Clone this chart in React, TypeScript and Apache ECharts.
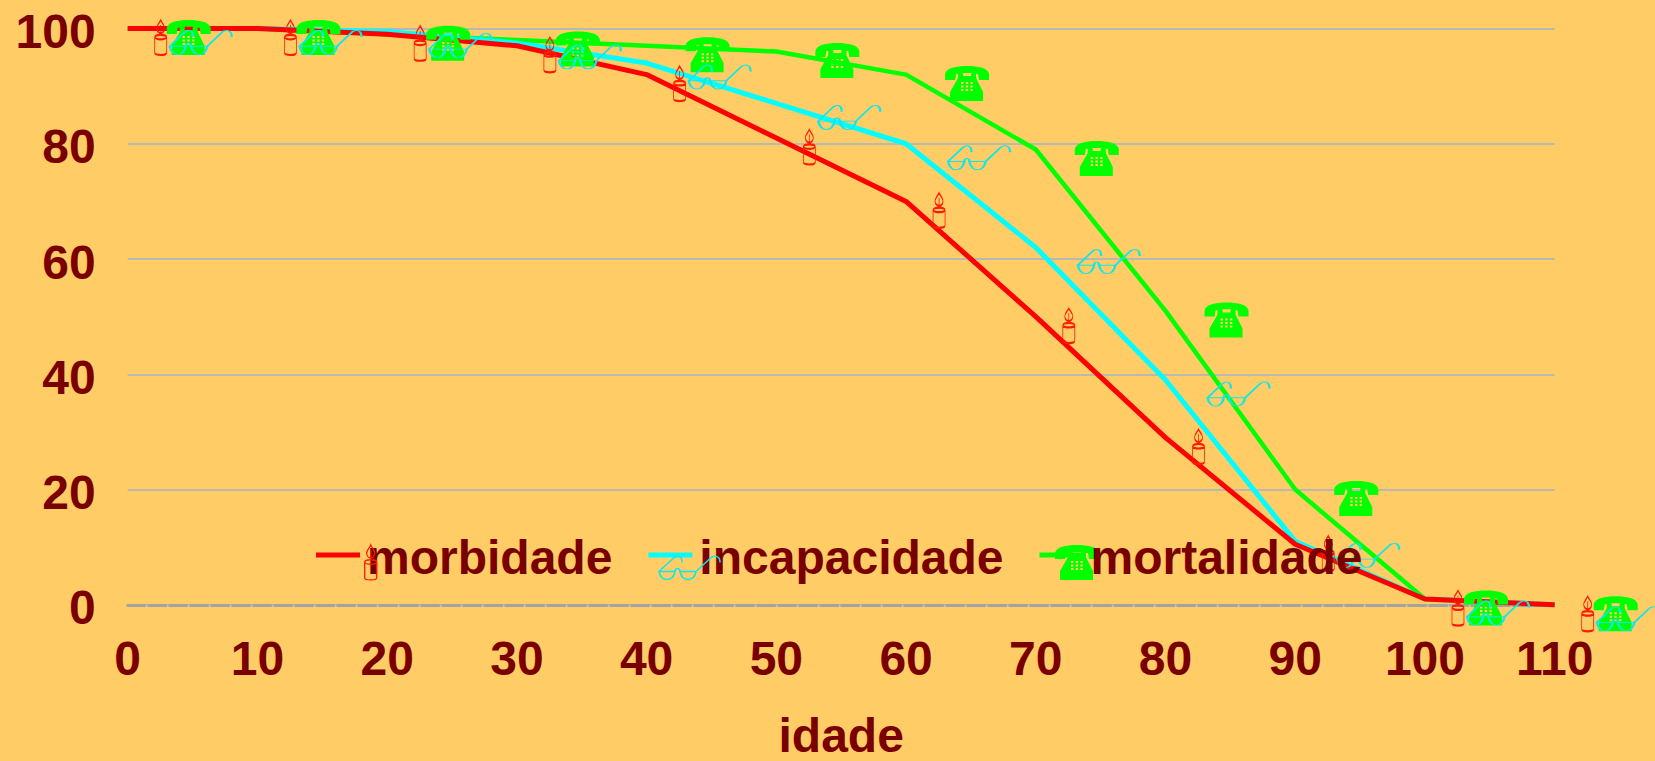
import React, { useEffect, useRef } from "react";
import * as echarts from "echarts";

const ages = [0, 10, 20, 30, 40, 50, 60, 70, 80, 90, 100, 110];
const morbidade = [100, 100, 99, 97, 92, 81, 70, 50, 29, 10.5, 1, 0];
const incapacidade = [100, 100, 99.5, 97.5, 94, 87, 80, 62, 39, 11, 1, 0];
const mortalidade = [100, 100, 99, 98, 97, 96, 92, 79, 51, 20, 1, 0];

const yTicks = { min: 0, max: 100, interval: 20 };
const xTicks = { min: 0, max: 110, interval: 10 };

const TEXT = "#7a0000";
const FONT = "'Liberation Sans', Arial, sans-serif";
const boldText = { color: TEXT, fontFamily: FONT, fontWeight: "bold", fontSize: 48 };

const candleD =
  "M6,0 C7,3 10,5 10,8 C10,11 8,13 6,13 C4,13 2,11 2,8 C2,5 5,3 6,0 Z M6,5 L6,15 M0,17 C0,14 12,14 12,17 C12,20 0,20 0,17 Z M0,17 L0,33 C0,35.5 12,35.5 12,33 L12,17";

const keys: string[] = [];
for (const ky of [16, 19.5, 23]) {
  for (const kx of [16, 20.7, 25.4]) {
    keys.push(`M${kx},${ky} L${kx},${ky + 2} L${kx + 2.4},${ky + 2} L${kx + 2.4},${ky} Z`);
  }
}
const phoneD =
  "M0,8 C1,2 11,0 22,0 C33,0 43,2 44,8 L44,14 L34,14 L33,8 C28,6.5 16,6.5 11,8 L10,14 L0,14 Z " +
  "M13,7 L18,7 L18,10 L26,10 L26,7 L31,7 L31,12 L38,26 L38,35 L5,35 L5,26 L13,12 Z " +
  keys.join(" ");

const glassesD =
  "M0,16 L16,16 C15,21 12,24 8,24 C4,24 1,21 0,16 Z M21,16 L37,16 C36,21 33,24 29,24 C25,24 22,21 21,16 Z M16,16 C16,12 21,12 21,16 M0,16 L14,3 C17,0 23,-1 23,7 M37,16 L51,3 C54,0 61,-1 61,7";

echarts.graphic.registerShape("candleIcon", echarts.graphic.extendPath(candleD, {}) as any);
echarts.graphic.registerShape("phoneIcon", echarts.graphic.extendPath(phoneD, {}) as any);
echarts.graphic.registerShape("glassesIcon", echarts.graphic.extendPath(glassesD, {}) as any);

const pts = (v: number[]) => ages.map((a, i) => [a, v[i]]);

export default function App() {
  const ref = useRef<HTMLDivElement>(null);
  useEffect(() => {
    const chart = echarts.init(ref.current!, null, { renderer: "svg" });
    chart.setOption({
      animation: false,
      backgroundColor: "#FFCC66",
      grid: { left: 127.7, right: 100.3, top: 28.5, height: 576.3, outerBoundsMode: "none" },
      legend: {
        left: 316,
        top: 533.5,
        padding: 0,
        itemWidth: 44,
        itemHeight: 5,
        itemGap: 36,
        selectedMode: false,
        formatter: "{a|{name}}",
        textStyle: { ...boldText, rich: { a: { ...boldText, padding: [5, 0, 0, 2] } } },
        data: [
          { name: "morbidade", icon: "rect", itemStyle: { color: "#ff0000", borderWidth: 0 } },
          { name: "incapacidade", icon: "rect", itemStyle: { color: "#00ffff", borderWidth: 0 } },
          { name: "mortalidade", icon: "rect", itemStyle: { color: "#00ff00", borderWidth: 0 } },
        ],
      },
      xAxis: {
        type: "value",
        ...xTicks,
        name: "idade",
        nameLocation: "middle",
        nameGap: 111,
        nameTextStyle: { ...boldText, lineHeight: 40 },
        axisLine: { show: true, onZero: true, lineStyle: { color: "#a3a3a3", width: 3, type: [17, 4] } },
        axisTick: { show: false },
        splitLine: { show: false },
        axisLabel: { ...boldText, margin: 30, hideOverlap: false },
      },
      yAxis: {
        type: "value",
        ...yTicks,
        axisLine: { show: false },
        axisTick: { show: false },
        splitLine: { show: true, lineStyle: { color: "#b9b9b4", width: 2 } },
        axisLabel: {
          ...boldText,
          margin: 32,
          formatter: "{a|{value}}",
          rich: { a: { ...boldText, padding: [6, 0, 0, 0] } },
        },
      },
      graphic: [
        { type: "phoneIcon", x: 1055, y: 545, z: 3, silent: true, style: { fill: "#00ff00", stroke: "none" } },
        { type: "candleIcon", x: 364.7, y: 545, z: 5, silent: true, style: { fill: "none", stroke: "#ff1a00", lineWidth: 1.3 } },
        { type: "glassesIcon", x: 659, y: 555.5, z: 5, silent: true, style: { fill: "none", stroke: "#10e8e8", lineWidth: 1.5 } },
      ],
      series: [
        {
          name: "mortalidade",
          type: "line",
          data: pts(mortalidade),
          clip: false,
          showSymbol: true,
          showAllSymbol: true,
          symbol: "path://" + phoneD,
          symbolSize: [44, 35],
          symbolOffset: [61, 9],
          lineStyle: { color: "#00ff00", width: 4.5 },
          itemStyle: { color: "#00ff00", borderWidth: 0 },
          silent: true,
        },
        {
          name: "incapacidade",
          type: "line",
          data: pts(incapacidade),
          clip: false,
          showSymbol: true,
          showAllSymbol: true,
          symbol: "path://" + glassesD,
          symbolSize: [62, 24],
          symbolOffset: [73, 14],
          lineStyle: { color: "#00ffff", width: 5 },
          itemStyle: { color: "transparent", borderColor: "#10e8e8", borderWidth: 1.5 },
          silent: true,
        },
        {
          name: "morbidade",
          type: "line",
          data: pts(morbidade),
          clip: false,
          showSymbol: true,
          showAllSymbol: true,
          symbol: "path://" + candleD,
          symbolSize: [12, 35],
          symbolOffset: [33, 9],
          lineStyle: { color: "#ff0000", width: 5 },
          itemStyle: { color: "transparent", borderColor: "#ff1a00", borderWidth: 1.3 },
          silent: true,
        },
      ],
    });
    return () => chart.dispose();
  }, []);
  return <div ref={ref} style={{ position: "absolute", left: 0, top: 0, width: 1655, height: 761 }} />;
}
